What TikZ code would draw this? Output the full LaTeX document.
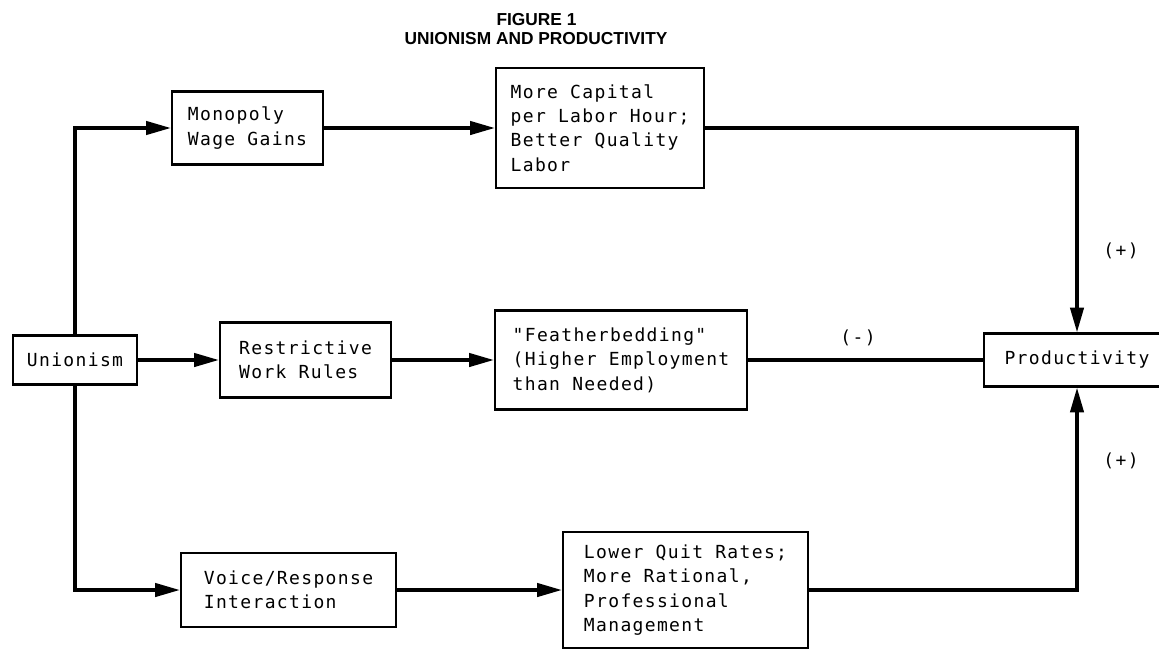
\documentclass[tikz,border=0pt]{standalone}
\usepackage{fontspec}
\newfontfamily\typefont[LetterSpace=7.5]{DejaVu Sans Mono}
\newfontfamily\headfont{Liberation Sans}
\newcommand{\boxtext}{\typefont\fontsize{13.5pt}{18.3pt}\selectfont}
\newcommand{\headtext}{\headfont\bfseries\fontsize{13pt}{15pt}\selectfont}
\usetikzlibrary{arrows.meta}

\tikzset{
  box/.style={draw, line width=1.8pt, align=left, font=\boxtext, inner sep=0pt},
  size/.style 2 args={minimum width=#1*0.75pt, minimum height=#2*0.75pt},
  link/.style={line width=2.4pt},
  flow/.style={link, -{Triangle[length=18.5pt,width=10pt]}},
  sign/.style={font=\boxtext, inner sep=0pt},
  heading/.style={font=\headtext, inner sep=0pt}
}

\begin{document}
\begin{tikzpicture}[x=0.75pt,y=0.75pt,yscale=-1,xscale=1]
\useasboundingbox (0,0) rectangle (1159,650);
\clip (0,0) rectangle (1159,650);

% title
\node[heading] (fig) at (536.5,20) {FIGURE 1};
\node[heading] (head) at (536,38.5) {UNIONISM AND PRODUCTIVITY};

% boxes
\node[box, size={124}{49}] (union) at (75,360) {Unionism};
\node[box, size={151}{73}] (mono) at (247.5,128) {Monopoly\\Wage Gains};
\node[box, size={171}{75}] (rules) at (305.5,360) {Restrictive\\Work Rules};
\node[box, size={215}{74}] (voice) at (288.5,590) {Voice/Response\\Interaction};
\node[box, size={208}{120}] (capital) at (600,128) {More Capital\\per Labor Hour;\\Better Quality\\Labor};
\node[box, size={252}{99}] (feather) at (621,360) {"Featherbedding"\\(Higher Employment\\than Needed)};
\node[box, size={245}{116}] (quit) at (685.5,590) {Lower Quit Rates;\\More Rational,\\Professional\\Management};
\node[box, size={186}{53}] (prod) at (1077,360) {Productivity};

% signs
\node[sign] (minus) at (858,338) {(-)};
\node[sign] (plusup) at (1121,251) {(+)};
\node[sign] (plusdown) at (1121,461) {(+)};

% connectors
\draw[flow] (union.north) |- (mono.west);
\draw[flow] (union.south) |- (voice.west);
\draw[flow] (union) -- (rules);
\draw[flow] (mono) -- (capital);
\draw[flow] (rules) -- (feather);
\draw[flow] (voice) -- (quit);
\draw[flow] (capital.east) -| (prod.north);
\draw[link] (feather) -- (prod);
\draw[flow] (quit.east) -| (prod.south);

\end{tikzpicture}
\end{document}
